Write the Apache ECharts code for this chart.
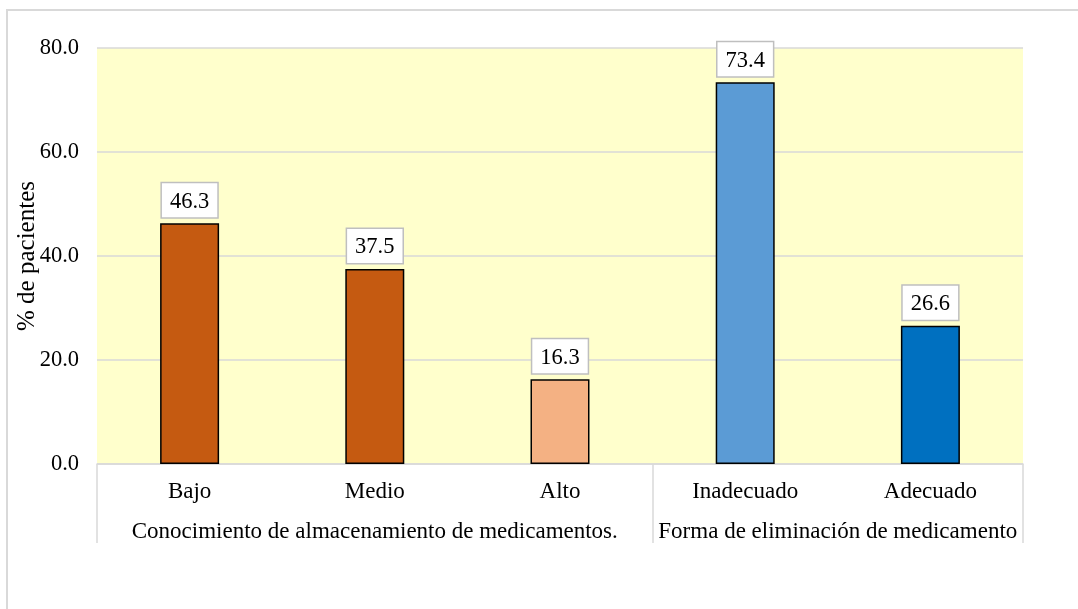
<!DOCTYPE html>
<html>
<head>
<meta charset="utf-8">
<script src="https://cdn.jsdelivr.net/npm/echarts@6/dist/echarts.min.js"></script>
<style>
html,body{margin:0;padding:0;background:#fff;}
#chart{width:1078px;height:609px;}
</style>
</head>
<body>
<div id="chart"></div>
<script>
const categories = ['Bajo', 'Medio', 'Alto', 'Inadecuado', 'Adecuado'];
const values = [46.3, 37.5, 16.3, 73.4, 26.6];
const barColors = ['#C55A11', '#C55A11', '#F4B183', '#5B9BD5', '#0070C0'];
const groups = ['Conocimiento de almacenamiento de medicamentos.', 'Forma de eliminación de medicamento'];
const groupSizes = [3, 2];
const yTicks = [0, 20, 40, 60, 80];

const FONT = '"Liberation Serif", "Times New Roman", serif';

const groupBounds = [0];
const groupCenters = [];
groupSizes.forEach(function (s, i) {
  groupCenters.push(groupBounds[i] + s / 2);
  groupBounds.push(groupBounds[i] + s);
});

const chart = echarts.init(document.getElementById('chart'), null, {renderer: 'canvas'});
chart.setOption({
  animation: false,
  backgroundColor: '#ffffff',
  textStyle: {fontFamily: FONT},
  graphic: [{
    type: 'rect',
    shape: {x: 7, y: 10, width: 1080, height: 620},
    style: {fill: 'none', stroke: '#D9D9D9', lineWidth: 2},
    silent: true
  }],
  grid: {
    left: 97, right: 55, top: 48, bottom: 145,
    outerBoundsMode: 'none',
    containLabel: false,
    show: true, backgroundColor: '#FFFFCC', borderWidth: 0
  },
  xAxis: [{
    type: 'category',
    data: categories,
    axisLine: {show: true, lineStyle: {color: '#D9D9D9', width: 1.5}},
    axisTick: {show: false},
    axisLabel: {color: '#000', fontSize: 23, fontFamily: FONT, margin: 16, interval: 0},
    splitLine: {show: false}
  }, {
    type: 'value',
    position: 'bottom',
    min: 0,
    max: groupBounds[groupBounds.length - 1],
    axisLine: {show: false},
    splitLine: {show: false},
    axisTick: {
      show: true, length: 79, inside: false,
      customValues: groupBounds,
      lineStyle: {color: '#D9D9D9', width: 1.5}
    },
    axisLabel: {
      show: true,
      customValues: groupCenters,
      margin: 56,
      color: '#000', fontSize: 23, fontFamily: FONT,
      formatter: function (v) {
        const i = groupCenters.indexOf(v);
        return i >= 0 ? groups[i] : '';
      }
    }
  }],
  yAxis: {
    type: 'value',
    min: yTicks[0],
    max: yTicks[yTicks.length - 1],
    interval: yTicks[1] - yTicks[0],
    name: '% de pacientes',
    nameLocation: 'middle',
    nameGap: 57,
    nameMoveOverlap: false,
    nameTextStyle: {color: '#000', fontSize: 25, fontFamily: FONT},
    axisLine: {show: false},
    axisTick: {show: false},
    axisLabel: {
      color: '#000', fontSize: 22.5, fontFamily: FONT, margin: 18,
      formatter: function (v) { return v.toFixed(1); }
    },
    splitLine: {lineStyle: {color: '#D9D9D9', width: 1.5}}
  },
  series: [{
    type: 'bar',
    xAxisIndex: 0,
    barWidth: 59,
    data: values.map(function (v, i) {
      return {value: v, itemStyle: {color: barColors[i]}};
    }),
    itemStyle: {borderColor: '#000', borderWidth: 1.5},
    label: {
      show: true,
      position: 'top',
      distance: 6,
      color: '#000',
      fontSize: 22.5,
      fontFamily: FONT,
      backgroundColor: '#ffffff',
      borderColor: '#BFBFBF',
      borderWidth: 1.5,
      padding: [7, 8, 4, 8],
      formatter: function (p) { return p.value.toFixed(1); }
    }
  }]
});
</script>
</body>
</html>
